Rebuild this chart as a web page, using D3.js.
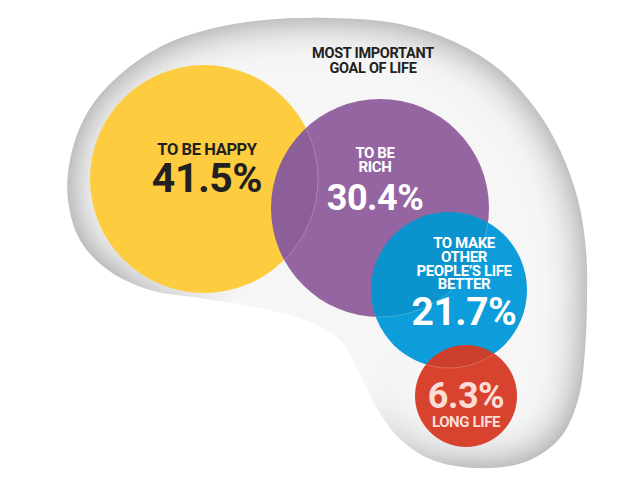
<!DOCTYPE html>
<html>
<head>
<meta charset="utf-8">
<script src="https://cdn.jsdelivr.net/npm/d3@7"></script>
<style>
  html, body { margin: 0; padding: 0; background: #ffffff; }
  svg { display: block; }
  text { font-family: Roboto, "Noto Sans", sans-serif; font-weight: 700; }
</style>
</head>
<body>
<svg id="chart" width="640" height="480"></svg>
<script>
// ---------- data ----------
const categories = ["TO BE HAPPY", "TO BE RICH", "TO MAKE OTHER PEOPLE’S LIFE BETTER", "LONG LIFE"];
const values = [41.5, 30.4, 21.7, 6.3];
const titleLines = ["MOST IMPORTANT", "GOAL OF LIFE"];

// ---------- layout (positions / sizes / styles) ----------
const labelLines = [["TO BE HAPPY"], ["TO BE", "RICH"], ["TO MAKE", "OTHER", "PEOPLE’S LIFE", "BETTER"], ["LONG LIFE"]];
const cxRange = [204, 380, 449, 466];
const cyRange = [179, 208, 290, 396];
const rRange = [114, 109, 78, 51];
const fillRange = ["#FDCD3F", "#9565A2", "#0C9DDA", "#D8432F"];
const textRange = ["#231F20", "#FFFFFF", "#FFFFFF", "#F8DED7"];
const blobOutline = [
  [330, 18], [400, 24], [455, 42], [500, 70], [535, 108], [560, 150], [578, 200], [586, 250],
  [587, 300], [585, 350], [578, 400], [560, 438], [525, 462], [475, 468], [430, 459], [398, 437],
  [375, 405], [358, 370], [340, 340], [310, 322], [260, 308], [200, 298], [150, 290], [108, 270],
  [80, 240], [68, 200], [70, 160], [86, 115], [114, 80], [160, 47], [210, 29], [265, 20]
];

const cx = d3.scaleOrdinal().domain(categories).range(cxRange);
const cy = d3.scaleOrdinal().domain(categories).range(cyRange);
const rad = d3.scaleOrdinal().domain(categories).range(rRange);
const fill = d3.scaleOrdinal().domain(categories).range(fillRange);
const tcol = d3.scaleOrdinal().domain(categories).range(textRange);
const fmt = d => d3.format(".1f")(d) + "%";

const data = categories.map((c, i) => ({ cat: c, value: values[i], lines: labelLines[i], i }));

const svg = d3.select("#chart");
const defs = svg.append("defs");

// inner shadow filter for the background blob
const f = defs.append("filter").attr("id", "innerShadow")
  .attr("x", "-20%").attr("y", "-20%").attr("width", "140%").attr("height", "140%");
f.append("feFlood").attr("flood-color", "#8e8e8e").attr("result", "c");
f.append("feComposite").attr("in", "c").attr("in2", "SourceAlpha").attr("operator", "out").attr("result", "outside");
f.append("feGaussianBlur").attr("in", "outside").attr("stdDeviation", 20).attr("result", "blur");
f.append("feComposite").attr("in", "blur").attr("in2", "SourceAlpha").attr("operator", "in");

// mask fading the shadow near the concave side
const rg = defs.append("radialGradient").attr("id", "fadeGrad")
  .attr("gradientUnits", "userSpaceOnUse").attr("cx", 300).attr("cy", 350).attr("r", 200);
rg.append("stop").attr("offset", 0).attr("stop-color", "#000");
rg.append("stop").attr("offset", 0.4).attr("stop-color", "#000");
rg.append("stop").attr("offset", 1).attr("stop-color", "#fff");
defs.append("mask").attr("id", "fadeMask").attr("maskUnits", "userSpaceOnUse")
  .attr("x", 0).attr("y", 0).attr("width", 640).attr("height", 480)
  .append("rect").attr("width", 640).attr("height", 480).attr("fill", "url(#fadeGrad)");

const blobPath = d3.line().curve(d3.curveCatmullRomClosed.alpha(0.5))(blobOutline);
svg.append("path").attr("d", blobPath).attr("fill", "#f6f6f6");
svg.append("g").attr("mask", "url(#fadeMask)")
  .append("path").attr("d", blobPath).attr("fill", "#f6f6f6").attr("filter", "url(#innerShadow)");

// clip paths for each circle
data.forEach(d => {
  defs.append("clipPath").attr("id", "clip" + d.i)
    .append("circle").attr("cx", cx(d.cat)).attr("cy", cy(d.cat)).attr("r", rad(d.cat));
});

// circles, with overlap shading against the previous one
const g = svg.append("g");
data.forEach((d, k) => {
  g.append("circle").attr("cx", cx(d.cat)).attr("cy", cy(d.cat)).attr("r", rad(d.cat))
    .attr("fill", fill(d.cat));
  if (k > 0) {
    const p = data[k - 1];
    const og = g.append("g").attr("clip-path", "url(#clip" + d.i + ")");
    og.append("circle").attr("cx", cx(p.cat)).attr("cy", cy(p.cat)).attr("r", rad(p.cat))
      .attr("fill", "#000").attr("fill-opacity", k === 1 ? 0.06 : 0.06)
      .attr("stroke", "#fff").attr("stroke-opacity", 0.22).attr("stroke-width", 1);
  }
});

// title
svg.append("text").attr("x", 373).attr("y", 57.5).attr("text-anchor", "middle")
  .attr("font-size", 14.5).attr("fill", "#231F20").attr("letter-spacing", -0.3)
  .selectAll("tspan").data(titleLines).join("tspan")
  .attr("x", 373).attr("dy", (d, i) => i === 0 ? 0 : 15).text(d => d);

// labels: one text element per circle, lines as tspans
const labelX = [207, 375, 464, 466];
const labelY = [[155], [158, 172], [248, 262, 276, 289], [427]];
const labelSize = [16.5, 15, 15, 15];
const valueY = [192, 210, 325, 408];
const valueSize = [41, 36, 39, 36];

data.forEach(d => {
  const rows = d.lines.map((line, j) => ({ text: line, y: labelY[d.i][j], size: labelSize[d.i], ls: -0.4 }));
  const valRow = { text: fmt(d.value), y: valueY[d.i], size: valueSize[d.i], ls: -0.5 };
  if (d.i === 3) rows.unshift(valRow); else rows.push(valRow);
  svg.append("text").attr("fill", tcol(d.cat)).attr("text-anchor", "middle")
    .selectAll("tspan").data(rows).join("tspan")
    .attr("x", labelX[d.i]).attr("y", r => r.y)
    .attr("font-size", r => r.size).attr("letter-spacing", r => r.ls)
    .text(r => r.text);
});
</script>
</body>
</html>
